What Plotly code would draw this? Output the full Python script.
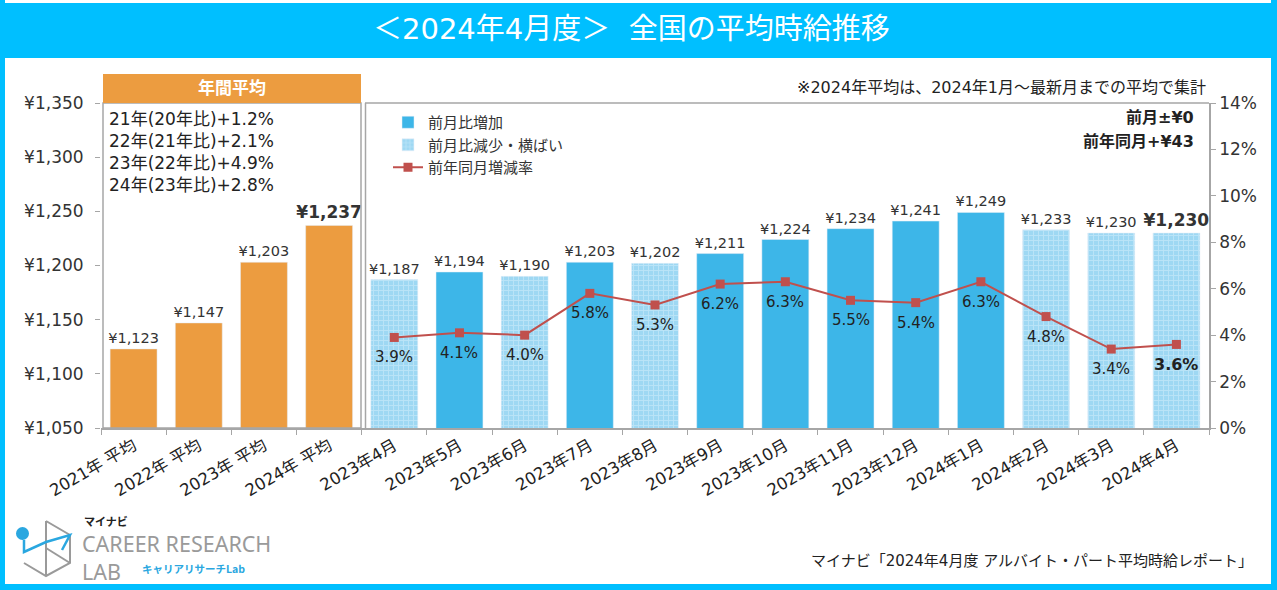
import plotly.graph_objects as go

# annual averages
annual_labels = ["2021年 平均", "2022年 平均", "2023年 平均", "2024年 平均"]
annual_wage = [1123, 1147, 1203, 1237]

# monthly
month_labels = ["2023年4月", "2023年5月", "2023年6月", "2023年7月", "2023年8月",
                "2023年9月", "2023年10月", "2023年11月", "2023年12月", "2024年1月",
                "2024年2月", "2024年3月", "2024年4月"]
month_wage = [1187, 1194, 1190, 1203, 1202, 1211, 1224, 1234, 1241, 1249, 1233, 1230, 1230]
month_up = [False, True, False, True, False, True, True, True, True, True, False, False, False]
yoy_rate = [3.9, 4.1, 4.0, 5.8, 5.3, 6.2, 6.3, 5.5, 5.4, 6.3, 4.8, 3.4, 3.6]

annual_notes = ["21年(20年比)+1.2%", "22年(21年比)+2.1%", "23年(22年比)+4.9%", "24年(23年比)+2.8%"]

FONT = "DejaVu Sans, Noto Sans CJK JP"
ORANGE = "#EC9C40"
BLUE = "#3DB6E8"
PAT_BG = "#9ED8F3"
CYAN = "#00BFFF"
RED = "#C0504D"
GRAY = "#A6A6A6"

W, H = 1277, 590
L, R, T, B = 101, 1209, 103, 428


def px(x):
    return (x - L) / (R - L)


def py(y):
    return (B - y) / (B - T)


def yen(v):
    return "¥{:,}".format(v)


fig = go.Figure()

# annual bars
a_text = [yen(v) for v in annual_wage]
a_text[-1] = "<b>" + a_text[-1] + "</b>"
a_size = [14.5] * len(annual_wage)
a_size[-1] = 17
fig.add_bar(x=annual_labels, y=annual_wage, marker_color=ORANGE, width=0.72,
            text=a_text, textposition="outside", textfont=dict(size=a_size, color="#333"),
            constraintext="none", cliponaxis=False, showlegend=False, hoverinfo="skip")

# monthly bars split in increase / decrease-flat
last = len(month_labels) - 1
up_x, up_y, up_t, dn_x, dn_y, dn_t, dn_s = [], [], [], [], [], [], []
for i, (m, v, u) in enumerate(zip(month_labels, month_wage, month_up)):
    if u:
        up_x.append(m); up_y.append(v); up_t.append(yen(v))
    else:
        dn_x.append(m); dn_y.append(v)
        dn_t.append("<b>" + yen(v) + "</b>" if i == last else yen(v))
        dn_s.append(17 if i == last else 14.5)

fig.add_bar(x=up_x, y=up_y, name="前月比増加", marker_color=BLUE, width=0.72,
            text=up_t, textposition="outside", textfont=dict(size=14.5, color="#333"),
            constraintext="none", cliponaxis=False)
fig.add_bar(x=dn_x, y=dn_y, name="前月比減少・横ばい", width=0.72,
            marker=dict(color=PAT_BG,
                        pattern=dict(shape="+", fgcolor="#D6F0FB", bgcolor=PAT_BG,
                                     size=5, solidity=0.35)),
            text=dn_t, textposition="outside", textfont=dict(size=dn_s, color="#333"),
            constraintext="none", cliponaxis=False)

# yoy line
fig.add_scatter(x=month_labels, y=yoy_rate, yaxis="y2", name="前年同月増減率",
                mode="lines+markers", line=dict(color=RED, width=2),
                marker=dict(symbol="square", size=9, color=RED), cliponaxis=False)

ann = []
# yoy labels under each point
for i, (m, v) in enumerate(zip(month_labels, yoy_rate)):
    s = "{:.1f}%".format(v)
    ann.append(dict(x=m, y=v, xref="x", yref="y2", yshift=-20, showarrow=False,
                    text="<b>" + s + "</b>" if i == last else s,
                    font=dict(size=16 if i == last else 15, color="#222", family=FONT)))

shapes = []
# frame + header
shapes.append(dict(type="rect", xref="paper", yref="paper", x0=px(0), x1=px(W), y0=py(3), y1=py(58),
                   fillcolor=CYAN, line_width=0, layer="below"))
for (x0, x1, y0, y1) in [(0, 5, 0, H), (W - 6, W, 0, H), (0, W, H - 6, H)]:
    shapes.append(dict(type="rect", xref="paper", yref="paper", x0=px(x0), x1=px(x1),
                       y0=py(y0), y1=py(y1), fillcolor=CYAN, line_width=0))
# annual box
shapes.append(dict(type="rect", xref="paper", yref="paper", x0=px(103), x1=px(361), y0=py(428), y1=py(103),
                   line=dict(color=GRAY, width=1.5)))
shapes.append(dict(type="rect", xref="paper", yref="paper", x0=px(103), x1=px(361), y0=py(103), y1=py(74),
                   fillcolor=ORANGE, line_width=0))
# separator + top border of monthly panel
shapes.append(dict(type="line", xref="paper", yref="paper", x0=px(365.5), x1=px(365.5), y0=py(428), y1=py(103),
                   line=dict(color=GRAY, width=1.5)))
shapes.append(dict(type="line", xref="paper", yref="paper", x0=px(365), x1=1, y0=1, y1=1,
                   line=dict(color=GRAY, width=1.5)))

# logo (rough)
logo_gray = "#9A9A9A"
logo_blue = "#2AA7E0"
shapes.append(dict(type="path", xref="paper", yref="paper",
                   path="M {} {} L {} {} L {} {} L {} {} L {} {}".format(
                       px(46), py(521), px(70), py(535), px(70), py(563), px(46), py(576), px(24), py(563)),
                   line=dict(color=logo_gray, width=2)))
shapes.append(dict(type="line", xref="paper", yref="paper", x0=px(46), x1=px(46), y0=py(521), y1=py(576),
                   line=dict(color=logo_gray, width=2)))
shapes.append(dict(type="line", xref="paper", yref="paper", x0=px(46), x1=px(70), y0=py(548), y1=py(563),
                   line=dict(color=logo_gray, width=2)))
shapes.append(dict(type="path", xref="paper", yref="paper",
                   path="M {} {} L {} {} L {} {} L {} {} L {} {}".format(
                       px(24), py(540), px(24), py(552), px(46), py(542), px(70), py(535), px(62), py(550)),
                   line=dict(color=logo_blue, width=2.5)))
shapes.append(dict(type="circle", xref="paper", yref="paper", x0=px(16), x1=px(29), y0=py(527), y1=py(540),
                   fillcolor=logo_blue, line_width=0))


def add_text(x, y, s, size=14, color="#222", xanchor="left", bold=False, family=FONT):
    ann.append(dict(x=px(x), y=py(y), xref="paper", yref="paper", text="<b>" + s + "</b>" if bold else s,
                    showarrow=False, xanchor=xanchor, yanchor="middle",
                    font=dict(size=size, color=color, family=family)))


add_text(631, 29, "＜2024年4月度＞  全国の平均時給推移", size=29, color="white", xanchor="center")
add_text(232, 88, "年間平均", size=17, color="white", xanchor="center", bold=True)
for i, s in enumerate(annual_notes):
    add_text(107, 119 + 22 * i, s, size=17)
add_text(1208, 87, "※2024年平均は、2024年1月～最新月までの平均で集計", size=16, xanchor="right")
add_text(1196, 118, "前月±¥0", size=16, xanchor="right", bold=True)
add_text(1196, 141, "前年同月+¥43", size=16, xanchor="right", bold=True)
add_text(1255, 561, "マイナビ「2024年4月度 アルバイト・パート平均時給レポート」", size=15, xanchor="right")
add_text(82, 521, "マイナビ", size=11, color="#222", bold=True, family="Noto Sans CJK JP")
add_text(80, 543, "CAREER RESEARCH", size=21.5, color=logo_gray, family="Noto Sans")
add_text(80, 571, "LAB", size=21.5, color=logo_gray, family="Noto Sans")
add_text(140, 568, "キャリアリサーチLab", size=10.5, color=logo_blue, bold=True, family="Noto Sans CJK JP")

fig.update_layout(
    width=W, height=H,
    margin=dict(l=L, r=W - R, t=T, b=H - B),
    paper_bgcolor="white", plot_bgcolor="white",
    font=dict(family=FONT, color="#333"),
    barmode="overlay",
    shapes=shapes, annotations=ann,
    legend=dict(x=px(388), y=py(106), xanchor="left", yanchor="top",
                font=dict(size=15, color="#333"), bgcolor="rgba(0,0,0,0)",
                tracegroupgap=0, itemwidth=30),
    xaxis=dict(categoryorder="array", categoryarray=annual_labels + month_labels,
               tickangle=-30, tickfont=dict(size=16.5, color="#222"),
               showline=True, linecolor=GRAY, linewidth=1.5,
               ticks="outside", tickson="boundaries", ticklen=5, tickcolor=GRAY,
               range=[-0.5, 16.5]),
    yaxis=dict(range=[1050, 1350], dtick=50, tickprefix="¥", tickformat=",",
               tickfont=dict(size=17, color="#333"), showgrid=False, ticklabelstandoff=8,
               ticks="outside", ticklen=5, tickcolor=GRAY, zeroline=False),
    yaxis2=dict(range=[0, 14], dtick=2, ticksuffix="%", overlaying="y", side="right",
                tickfont=dict(size=17, color="#333"), showgrid=False, showline=True,
                linecolor=GRAY, linewidth=1.5, ticks="outside", ticklen=5, tickcolor=GRAY,
                zeroline=False),
)

fig.write_html("out.html", config={"displayModeBar": False},
               post_script="document.body.style.margin='0';")
